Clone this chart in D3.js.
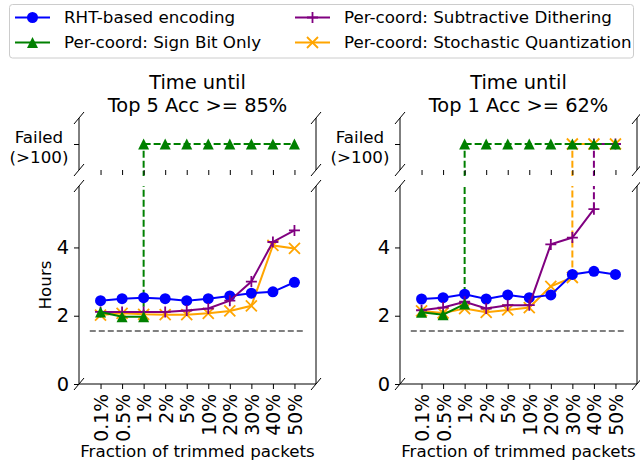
<!DOCTYPE html>
<html>
<head>
<meta charset="utf-8">
<script src="https://cdn.jsdelivr.net/npm/d3@7"></script>
<style>
  body { margin: 0; background: #fff; }
  svg { font-family: "DejaVu Sans", sans-serif; }
</style>
</head>
<body>
<svg id="chart" width="640" height="463"></svg>
<script>
// categories on the x axis
const cats = ["0.1%", "0.5%", "1%", "2%", "5%", "10%", "20%", "30%", "40%", "50%"];

// Top 5 Acc >= 85%  (null = failed, >100 h)
const rhtTop5   = [2.44, 2.50, 2.53, 2.50, 2.44, 2.50, 2.58, 2.66, 2.70, 2.98];
const signTop5  = [2.11, 1.97, 1.97, null, null, null, null, null, null, null];
const subTop5   = [2.11, 2.11, 2.11, 2.11, 2.15, 2.21, 2.44, 3.00, 4.16, 4.50];
const stochTop5 = [2.02, 2.07, 2.04, 2.03, 2.03, 2.07, 2.14, 2.29, 4.06, 3.97];

// Top 1 Acc >= 62%
const rhtTop1   = [2.49, 2.53, 2.63, 2.49, 2.61, 2.53, 2.61, 3.21, 3.30, 3.21];
const signTop1  = [2.10, 2.03, 2.34, null, null, null, null, null, null, null];
const subTop1   = [2.16, 2.24, 2.41, 2.21, 2.31, 2.31, 4.09, 4.29, 5.12, null];
const stochTop1 = [2.14, 2.08, 2.21, 2.10, 2.17, 2.24, 2.86, 3.12, null, null];

const baseline = 1.55;   // grey dashed reference
const failedValue = 100;
const yTicks = [0, 2, 4];

const seriesInfo = [
  { name: "RHT-based encoding", color: "blue", marker: "circle" },
  { name: "Per-coord: Sign Bit Only", color: "green", marker: "triangle" },
  { name: "Per-coord: Subtractive Dithering", color: "purple", marker: "plus" },
  { name: "Per-coord: Stochastic Quantization", color: "orange", marker: "x" }
];

const panels = [
  { title: ["Time until", "Top 5 Acc >= 85%"], x0: 79, x1: 316, ylabel: true,
    data: [rhtTop5, signTop5, subTop5, stochTop5] },
  { title: ["Time until", "Top 1 Acc >= 62%"], x0: 400, x1: 637, ylabel: false,
    data: [rhtTop1, signTop1, subTop1, stochTop1] }
];

const fs = "16.7px";
const fsBig = "19.4px";
const svg = d3.select("#chart");

function drawMarker(g, type, color, cx, cy) {
  const s = 5.5;
  if (type === "circle") {
    g.append("circle").attr("cx", cx).attr("cy", cy).attr("r", s).attr("fill", color);
  } else if (type === "triangle") {
    g.append("path").attr("transform", `translate(${cx},${cy})`)
      .attr("d", `M0,${-s}L${s},${s}L${-s},${s}Z`).attr("fill", color);
  } else if (type === "plus") {
    g.append("path").attr("transform", `translate(${cx},${cy})`)
      .attr("d", `M${-s},0H${s}M0,${-s}V${s}`).attr("stroke", color).attr("stroke-width", 1.8);
  } else {
    g.append("path").attr("transform", `translate(${cx},${cy})`)
      .attr("d", `M${-s},${-s}L${s},${s}M${-s},${s}L${s},${-s}`).attr("stroke", color).attr("stroke-width", 1.8);
  }
}

function slash(g, x, y) {
  g.append("line").attr("x1", x - 5).attr("y1", y + 6).attr("x2", x + 5).attr("y2", y - 6)
    .attr("stroke", "black").attr("stroke-width", 1);
}

// draw order: vertical links, then orange, blue, purple, green
const order = [3, 0, 2, 1];

panels.forEach((p, pi) => {
  const x = d3.scalePoint().domain(cats).range([p.x0, p.x1]).padding(1);
  const yB = d3.scaleLinear().domain([0, 5.8]).range([384, 186]);
  const yT = d3.scaleLinear().domain([95, 105]).range([170, 118]);

  const g = svg.append("g");

  svg.append("clipPath").attr("id", "clipB" + pi).append("rect")
    .attr("x", p.x0).attr("y", 186).attr("width", p.x1 - p.x0).attr("height", 198);
  svg.append("clipPath").attr("id", "clipT" + pi).append("rect")
    .attr("x", p.x0).attr("y", 112).attr("width", p.x1 - p.x0).attr("height", 64);

  const gB = g.append("g").attr("clip-path", `url(#clipB${pi})`);
  const gT = g.append("g").attr("clip-path", `url(#clipT${pi})`);

  // baseline
  gB.append("line")
    .attr("x1", x(cats[0]) - x.step() / 2).attr("x2", x(cats[cats.length - 1]) + x.step() / 2)
    .attr("y1", yB(baseline)).attr("y2", yB(baseline))
    .attr("stroke", "gray").attr("stroke-width", 2).attr("stroke-dasharray", "6,3");

  // vertical links to failed row
  p.data.forEach((vals, si) => {
    const last = vals.findLastIndex(v => v !== null);
    if (last === vals.length - 1) return;
    const c = seriesInfo[si].color;
    const xx = x(cats[last]);
    gB.append("line").attr("x1", xx).attr("x2", xx)
      .attr("y1", yB(vals[last])).attr("y2", yB(6))
      .attr("stroke", c).attr("stroke-width", 2).attr("stroke-dasharray", "7,3");
    gT.append("line").attr("x1", xx).attr("x2", xx)
      .attr("y1", yT(93.5)).attr("y2", yT(failedValue))
      .attr("stroke", c).attr("stroke-width", 2).attr("stroke-dasharray", "7,3");
  });

  order.forEach(si => {
    const vals = p.data[si];
    const info = seriesInfo[si];
    const pts = vals.map((v, i) => ({ c: cats[i], v })).filter(d => d.v !== null);
    const line = d3.line().x(d => x(d.c)).y(d => yB(d.v));
    gB.append("path").datum(pts).attr("d", line)
      .attr("fill", "none").attr("stroke", info.color).attr("stroke-width", 2);
    pts.forEach(d => drawMarker(gB, info.marker, info.color, x(d.c), yB(d.v)));

    const last = vals.findLastIndex(v => v !== null);
    if (last < vals.length - 1) {
      const fp = cats.slice(last);
      const lineT = d3.line().x(c => x(c)).y(() => yT(failedValue));
      gT.append("path").datum(fp).attr("d", lineT)
        .attr("fill", "none").attr("stroke", info.color).attr("stroke-width", 2)
        .attr("stroke-dasharray", si === 1 ? "7,3" : null);
      fp.forEach(c => drawMarker(gT, info.marker, info.color, x(c), yT(failedValue)));
    }
  });

  // spines
  [p.x0, p.x1].forEach(sx => {
    g.append("line").attr("x1", sx).attr("x2", sx).attr("y1", 118).attr("y2", 170)
      .attr("stroke", "black").attr("stroke-width", 1);
    g.append("line").attr("x1", sx).attr("x2", sx).attr("y1", 186).attr("y2", 384)
      .attr("stroke", "black").attr("stroke-width", 1);
    [118, 170, 186, 384].forEach(sy => slash(g, sx, sy));
  });
  g.append("line").attr("x1", p.x0).attr("x2", p.x1).attr("y1", 384).attr("y2", 384)
    .attr("stroke", "black").attr("stroke-width", 1);

  // top subplot x ticks (no labels)
  const axT = g.append("g").attr("transform", "translate(0,170)")
    .call(d3.axisBottom(x).tickSize(5).tickFormat(""));
  axT.select(".domain").remove();

  // bottom x axis
  const axB = g.append("g").attr("transform", "translate(0,384)")
    .call(d3.axisBottom(x).tickSize(5).tickPadding(6));
  axB.select(".domain").remove();
  axB.selectAll("text")
    .attr("font-size", "18.8px").attr("font-family", "DejaVu Sans").attr("fill", "black")
    .attr("dy", null).attr("y", null)
    .attr("text-anchor", "end").attr("dominant-baseline", "central")
    .attr("transform", "translate(0.5,10) rotate(-90)");

  // bottom y axis
  const ayB = g.append("g").attr("transform", `translate(${p.x0},0)`)
    .call(d3.axisLeft(yB).tickValues(yTicks).tickFormat(d3.format("d")).tickSize(5).tickPadding(5));
  ayB.select(".domain").remove();
  ayB.selectAll("text").attr("font-size", fsBig).attr("font-family", "DejaVu Sans").attr("fill", "black");

  // top y axis
  const ayT = g.append("g").attr("transform", `translate(${p.x0},0)`)
    .call(d3.axisLeft(yT).tickValues([failedValue]).tickSize(5).tickFormat(""));
  ayT.select(".domain").remove();
  const ft = g.append("text").attr("text-anchor", "middle").attr("font-size", fs)
    .attr("x", p.x0 - 40).attr("y", yT(failedValue) - 1);
  ft.append("tspan").attr("x", p.x0 - 40).text("Failed");
  ft.append("tspan").attr("x", p.x0 - 40).attr("dy", 20).text("(>100)");

  // title
  const cx = (p.x0 + p.x1) / 2;
  p.title.forEach((t, i) => {
    g.append("text").attr("x", cx).attr("y", 89 + i * 22.5).attr("text-anchor", "middle")
      .attr("font-size", fsBig).text(t);
  });

  // x label
  g.append("text").attr("x", cx).attr("y", 457).attr("text-anchor", "middle")
    .attr("font-size", fs).text("Fraction of trimmed packets");

  if (p.ylabel) {
    g.append("text").attr("transform", `translate(51,${(186 + 384) / 2}) rotate(-90)`)
      .attr("text-anchor", "middle").attr("font-size", fs).text("Hours");
  }
});

// legend
const lg = svg.append("g");
lg.append("rect").attr("x", 9.5).attr("y", 4.5).attr("width", 624).attr("height", 53.5)
  .attr("rx", 3).attr("fill", "white").attr("stroke", "#cccccc").attr("stroke-width", 1);
const legCols = [15, 295];
seriesInfo.forEach((s, i) => {
  const lx = legCols[Math.floor(i / 2)];
  const ly = 17.5 + (i % 2) * 25;
  lg.append("line").attr("x1", lx).attr("x2", lx + 35).attr("y1", ly).attr("y2", ly)
    .attr("stroke", s.color).attr("stroke-width", 2);
  drawMarker(lg, s.marker, s.color, lx + 17.5, ly);
  lg.append("text").attr("x", lx + 49).attr("y", ly).attr("dy", "0.35em")
    .attr("font-size", fs).text(s.name);
});
</script>
</body>
</html>
